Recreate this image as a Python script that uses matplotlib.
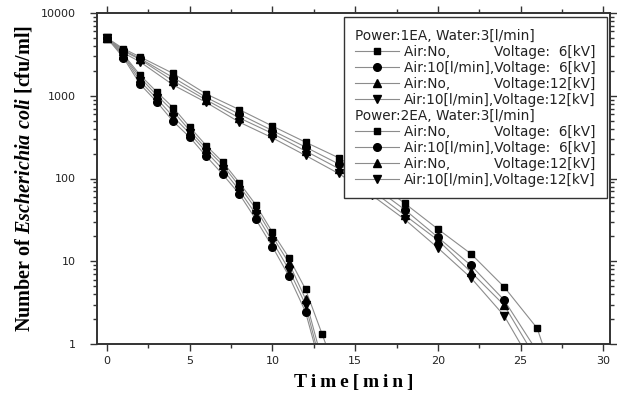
import matplotlib
matplotlib.use("Agg")
import matplotlib.pyplot as plt
from matplotlib import ticker
from matplotlib.lines import Line2D

plt.rcParams["mathtext.fontset"] = "custom"
plt.rcParams["mathtext.rm"] = "Liberation Serif:bold"
plt.rcParams["mathtext.it"] = "Liberation Serif:italic:bold"
plt.rcParams["mathtext.bf"] = "Liberation Serif:bold"

# time axis (min)
t_1ea = [0, 1, 2, 4, 6, 8, 10, 12, 14, 16, 18, 20, 22, 24, 26, 28]
t_2ea = [0, 1, 2, 3, 4, 5, 6, 7, 8, 9, 10, 11, 12, 13, 14]

# Power:1EA, Water:3[l/min]  (cfu/ml)
p1_no_6 = [5000, 3700, 2950, 1860, 1050, 680, 430, 275, 178, 100, 50, 24.5, 12.3, 4.9, 1.55, 0.1]
p1_air_6 = [5000, 3550, 2820, 1660, 955, 600, 380, 240, 150, 83, 42, 19.5, 8.9, 3.4, 0.81, 0.05]
p1_no_12 = [5000, 3470, 2750, 1510, 890, 540, 350, 215, 132, 72, 36, 18, 7.4, 2.95, 0.63, 0.03]
p1_air_12 = [5000, 3300, 2570, 1350, 830, 480, 310, 190, 115, 63, 32, 14.5, 6.3, 2.2, 0.45, 0.02]

# Power:2EA, Water:3[l/min]
p2_no_6 = [5000, 3160, 1780, 1120, 720, 420, 250, 158, 89, 48, 22.4, 11, 4.6, 1.32, 0.38]
p2_air_6 = [5000, 2880, 1380, 850, 490, 316, 186, 112, 65, 32, 15, 6.6, 2.45, 0.45, 0.07]
p2_no_12 = [5000, 3090, 1660, 1020, 650, 380, 230, 145, 81, 43, 20, 9.5, 3.5, 0.63, 0.1]
p2_air_12 = [5000, 3020, 1510, 930, 560, 350, 210, 129, 72, 37, 17.4, 7.9, 3.0, 0.5, 0.08]

labels = [
    "Air:No,          Voltage:  6[kV]",
    "Air:10[l/min],Voltage:  6[kV]",
    "Air:No,          Voltage:12[kV]",
    "Air:10[l/min],Voltage:12[kV]",
]
markers = ["s", "o", "^", "v"]
msizes = [5, 5.5, 6, 6]

groups = [
    ("Power:1EA, Water:3[l/min]", t_1ea, [p1_no_6, p1_air_6, p1_no_12, p1_air_12]),
    ("Power:2EA, Water:3[l/min]", t_2ea, [p2_no_6, p2_air_6, p2_no_12, p2_air_12]),
]

LINE_C = "#8c8c8c"

fig = plt.figure(figsize=(6.17, 3.99), dpi=100)
ax = fig.add_axes([97 / 617, 1 - 344 / 399, 513 / 617, 331 / 399])

handles, leg_labels = [], []
for title, t, series in groups:
    handles.append(Line2D([], [], linestyle="none"))
    leg_labels.append(title)
    for ys, m, ms, lab in zip(series, markers, msizes, labels):
        ax.plot(t, ys, color=LINE_C, lw=0.8, zorder=2)
        ax.plot(t, ys, linestyle="none", marker=m, ms=ms, color="black", zorder=3)
        handles.append(Line2D([], [], color=LINE_C, lw=0.8, marker=m, ms=ms,
                              markerfacecolor="black", markeredgecolor="black"))
        leg_labels.append(lab)

ax.set_yscale("log")
ax.set_ylim(1, 10000)
ax.set_xlim(-0.6, 30.4)
ax.xaxis.set_major_locator(ticker.MultipleLocator(5))
ax.xaxis.set_minor_locator(ticker.MultipleLocator(2.5))
ax.yaxis.set_major_formatter(ticker.FuncFormatter(lambda v, _: f"{v:g}"))
ax.yaxis.set_minor_formatter(ticker.NullFormatter())
ax.tick_params(which="both", direction="out", top=True, right=True, width=1,
               color="#333333", labelsize=8, labelcolor="#222222")
ax.tick_params(which="major", length=5)
ax.tick_params(which="minor", length=3)
ax.tick_params(axis="y", which="major", pad=10)
for s in ax.spines.values():
    s.set_linewidth(1.4)
    s.set_color("#333333")

ax.set_ylabel(r"Number of $\mathit{Escherichia\ coli}$ [cfu/ml]",
              family="Liberation Serif", weight="bold", fontsize=14.5, labelpad=5)
ax.yaxis.label.set_math_fontfamily("custom")
ax.set_xlabel("\u2009".join("Time[min]"), family=["Liberation Serif", "DejaVu Serif"],
              weight="bold", fontsize=14, labelpad=6)

leg = ax.legend(handles, leg_labels, loc="upper right", bbox_to_anchor=(0.994, 0.988),
                borderaxespad=0, fontsize=9.8, frameon=True, fancybox=False,
                framealpha=1, handlelength=3.2, handletextpad=0.35,
                labelspacing=0.15, borderpad=0.85)
leg.get_frame().set_edgecolor("#333333")
leg.get_frame().set_linewidth(1.0)
for txt in leg.get_texts():
    txt.set_color("#222222")

# header rows: drop the empty handle so the title starts at the handle column
try:
    rows = leg._legend_handle_box.get_children()[0].get_children()
    for row, lab in zip(rows, leg_labels):
        if lab.startswith("Power"):
            row.get_children()[0].width = 0
            row.sep = 0
except Exception:
    pass

fig.savefig("out.png", dpi=100)
